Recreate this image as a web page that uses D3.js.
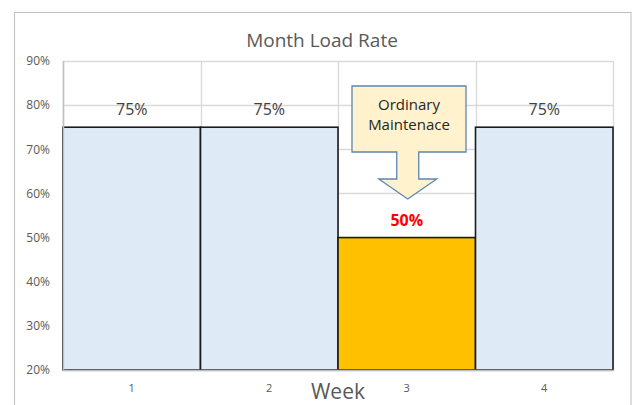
<!DOCTYPE html>
<html><head><meta charset="utf-8">
<script src="https://cdn.jsdelivr.net/npm/d3@7"></script>
<style>html,body{margin:0;padding:0;background:#fff;}svg{display:block;font-family:"Open Sans",sans-serif;}</style>
</head><body><svg id="c" width="636" height="405"></svg>
<script>
const weeks = ["1","2","3","4"];
const loadRate = [0.75, 0.75, 0.50, 0.75];
const highlightWeek = "3";
const yTicks = [0.2,0.3,0.4,0.5,0.6,0.7,0.8,0.9];
const calloutLines = ["Ordinary","Maintenace"];
const title = "Month Load Rate";
const xTitle = "Week";

const svg = d3.select("#c");
// outer frame
svg.append("rect").attr("x",14.5).attr("y",12.5).attr("width",616.5).attr("height",420)
  .attr("fill","#fff").attr("stroke","#bfbfbf").attr("stroke-width",1);

const x = d3.scaleBand().domain(weeks).range([63,613]).padding(0);
const y = d3.scaleLinear().domain([0.2,0.9]).range([370,61]);

// title
svg.append("text").attr("x",322).attr("y",47).attr("text-anchor","middle")
  .attr("font-size",19).attr("fill","#595959").text(title);

// gridlines
svg.append("g").selectAll("line.h").data(yTicks).join("line")
  .attr("x1",63).attr("x2",613).attr("y1",d=>Math.round(y(d))+0.5).attr("y2",d=>Math.round(y(d))+0.5)
  .attr("stroke","#d9d9d9").attr("stroke-width",1.3);
svg.append("g").selectAll("line.v").data(weeks.concat(["end"])).join("line")
  .attr("x1",(d,i)=>Math.round(i<weeks.length?x(d):x.range()[1])+0.5)
  .attr("x2",(d,i)=>Math.round(i<weeks.length?x(d):x.range()[1])+0.5)
  .attr("y1",61).attr("y2",370).attr("stroke","#d9d9d9").attr("stroke-width",1.3);

// bars
svg.append("g").selectAll("rect").data(weeks).join("rect")
  .attr("x",d=>x(d)).attr("width",x.bandwidth())
  .attr("y",(d,i)=>y(loadRate[i])).attr("height",(d,i)=>y(0.2)-y(loadRate[i]))
  .attr("fill",d=>d===highlightWeek?"#ffc000":"#deebf7")
  .attr("stroke","#1a1a1a").attr("stroke-width",1.6);

// axis lines over bars
svg.append("line").attr("x1",63.5).attr("x2",63.5).attr("y1",61).attr("y2",371).attr("stroke","#bfbfbf").attr("stroke-width",1.5);
svg.append("line").attr("x1",63).attr("x2",614).attr("y1",370.5).attr("y2",370.5).attr("stroke","#bfbfbf").attr("stroke-width",1.5);

// y axis labels
const yAxis = d3.axisLeft(y).tickValues(yTicks).tickFormat(d3.format(".0%")).tickSize(0).tickPadding(13);
const ga = svg.append("g").attr("transform","translate(63,0)").call(yAxis);
ga.select(".domain").remove();
ga.selectAll("text").attr("font-size",12).attr("fill","#595959").attr("font-family","'Open Sans',sans-serif");

// x axis labels
const xAxis = d3.axisBottom(x).tickSize(0).tickPadding(14);
const gx = svg.append("g").attr("transform","translate(0,370)").call(xAxis);
gx.select(".domain").remove();
gx.selectAll("text").attr("font-size",11).attr("fill","#595959").attr("font-family","'Open Sans',sans-serif");

// x title
svg.append("text").attr("x",338).attr("y",399).attr("text-anchor","middle")
  .attr("font-size",21).attr("fill","#595959").text(xTitle);

// data labels
svg.append("g").selectAll("text").data(weeks).join("text")
  .attr("x",d=>x(d)+x.bandwidth()/2)
  .attr("y",(d,i)=>y(loadRate[i])-12)
  .attr("text-anchor","middle")
  .attr("font-size",16)
  .attr("font-weight",d=>d===highlightWeek?"bold":"normal")
  .attr("fill",d=>d===highlightWeek?"#ff0000":"#404040")
  .text((d,i)=>d3.format(".0%")(loadRate[i]));

// callout
const cx = x(highlightWeek)+x.bandwidth()/2 + 1;
const bx0=352, bx1=466, by0=86, by1=152, sw=11, hw=29, hy=179, ty=199;
const path = `M${bx0},${by0} H${bx1} V${by1} H${cx+sw} V${hy} H${cx+hw} L${cx},${ty} L${cx-hw},${hy} H${cx-sw} V${by1} H${bx0} Z`;
svg.append("path").attr("d",path).attr("fill","#fff2cc").attr("stroke","#5b86b3").attr("stroke-width",1.3);
svg.append("g").selectAll("text").data(calloutLines).join("text")
  .attr("x",(bx0+bx1)/2).attr("y",(d,i)=>110+i*19.5).attr("text-anchor","middle")
  .attr("font-size",15).attr("fill","#262626").text(d=>d);
</script></body></html>
